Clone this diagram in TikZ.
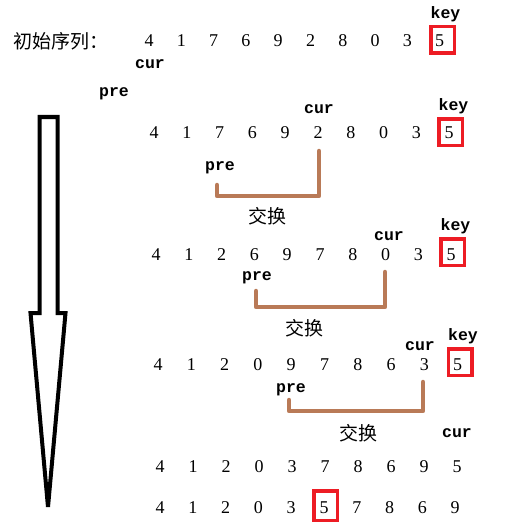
\documentclass[tikz,border=0pt]{standalone}
\usepackage{fontspec}
\setmainfont{Liberation Serif}
\newfontfamily\hanfont{Noto Sans CJK SC}
\newfontfamily\tagfont{Liberation Mono}
\usetikzlibrary{positioning}
\definecolor{keyred}{RGB}{237,28,36}
\definecolor{swapbrown}{RGB}{185,122,87}

\begin{document}
\begin{tikzpicture}[x=1pt, y=-1pt,
		num/.style = {font=\fontsize{18}{20}\selectfont, inner sep=1pt},
		tag/.style = {font=\tagfont\bfseries\fontsize{16.5}{18}\selectfont, inner sep=1pt},
		han/.style = {font=\hanfont\fontsize{19}{21}\selectfont, inner sep=1pt},
		keybox/.style = {draw=keyred, line width=3.5pt, minimum width=23.5pt, minimum height=26.5pt, inner sep=0pt},
		swapline/.style = {draw=swapbrown, line width=4.5pt, line cap=round, line join=round}]
				\useasboundingbox (0,0) rectangle (524,524);
				% big arrow
				\draw[line width=4pt, line join=miter] (39.5,117) -- (57.5,117) -- (57.5,313) -- (65.5,313) -- (48,507) -- (30.5,313) -- (39.5,313) -- cycle;
				% rows
				\node[han, anchor=west] (init) at (12,41) {初始序列：};
				\foreach \d [count=\i] in {4,1,7,6,9,2,8,0,3,5}
					\node[num] (a\i) at (149+32.3*\i-32.3,41) {\d};
				\foreach \d [count=\i] in {4,1,7,6,9,2,8,0,3,5}
					\node[num] (b\i) at (154+32.8*\i-32.8,133) {\d};
				\foreach \d [count=\i] in {4,1,2,6,9,7,8,0,3,5}
					\node[num] (c\i) at (156+32.8*\i-32.8,255) {\d};
				\foreach \d [count=\i] in {4,1,2,0,9,7,8,6,3,5}
					\node[num] (d\i) at (158+33.3*\i-33.3,365) {\d};
				\foreach \d [count=\i] in {4,1,2,0,3,7,8,6,9,5}
					\node[num] (e\i) at (160+33*\i-33,467) {\d};
				\foreach \d [count=\i] in {4,1,2,0,3,5,7,8,6,9}
					\node[num] (f\i) at (160+32.8*\i-32.8,508) {\d};
				% key boxes
				\node[keybox] (ka) at (442.5,40) {};
				\node[keybox] (kb) at (450.5,132) {};
				\node[keybox] (kc) at (452.5,252) {};
				\node[keybox] (kd) at (460,362) {};
				\node[keybox, minimum height=29.5pt] (kf) at (325.5,505.5) {};
				\node[tag, above=1.5pt of ka, xshift=3pt] (keya) {key};
				\node[tag, above=1.5pt of kb, xshift=3pt] (keyb) {key};
				\node[tag, above=1.5pt of kc, xshift=3pt] (keyc) {key};
				\node[tag, above=1.5pt of kd, xshift=3pt] (keyd) {key};
				% cur and pre
				\node[tag] (cura) at (150,64) {cur};
				\node[tag] (prea) at (114,94) {pre};
				\node[tag] (curb) at (319,109) {cur};
				\node[tag] (preb) at (220,168) {pre};
				\node[tag] (curc) at (389,236) {cur};
				\node[tag] (prec) at (257,278) {pre};
				\node[tag] (curd) at (420,346) {cur};
				\node[tag] (pred) at (291,390) {pre};
				\node[tag] (cure) at (457,433) {cur};
				% swaps
				\coordinate (swb1) at (217,185);
				\coordinate (swb2) at (319,151);
				\coordinate (swc1) at (256,291);
				\coordinate (swc2) at (385,272);
				\coordinate (swd1) at (289,400);
				\coordinate (swd2) at (423,382);
				\draw[swapline] (swb1) -- (swb1 |- 0,196) -| (swb2);
				\draw[swapline] (swc1) -- (swc1 |- 0,307) -| (swc2);
				\draw[swapline] (swd1) -- (swd1 |- 0,411) -| (swd2);
				\node[han] (xb) at (267,216) {交换};
				\node[han] (xc) at (304,328) {交换};
				\node[han] (xd) at (358,433) {交换};
			\end{tikzpicture}
\end{document}
